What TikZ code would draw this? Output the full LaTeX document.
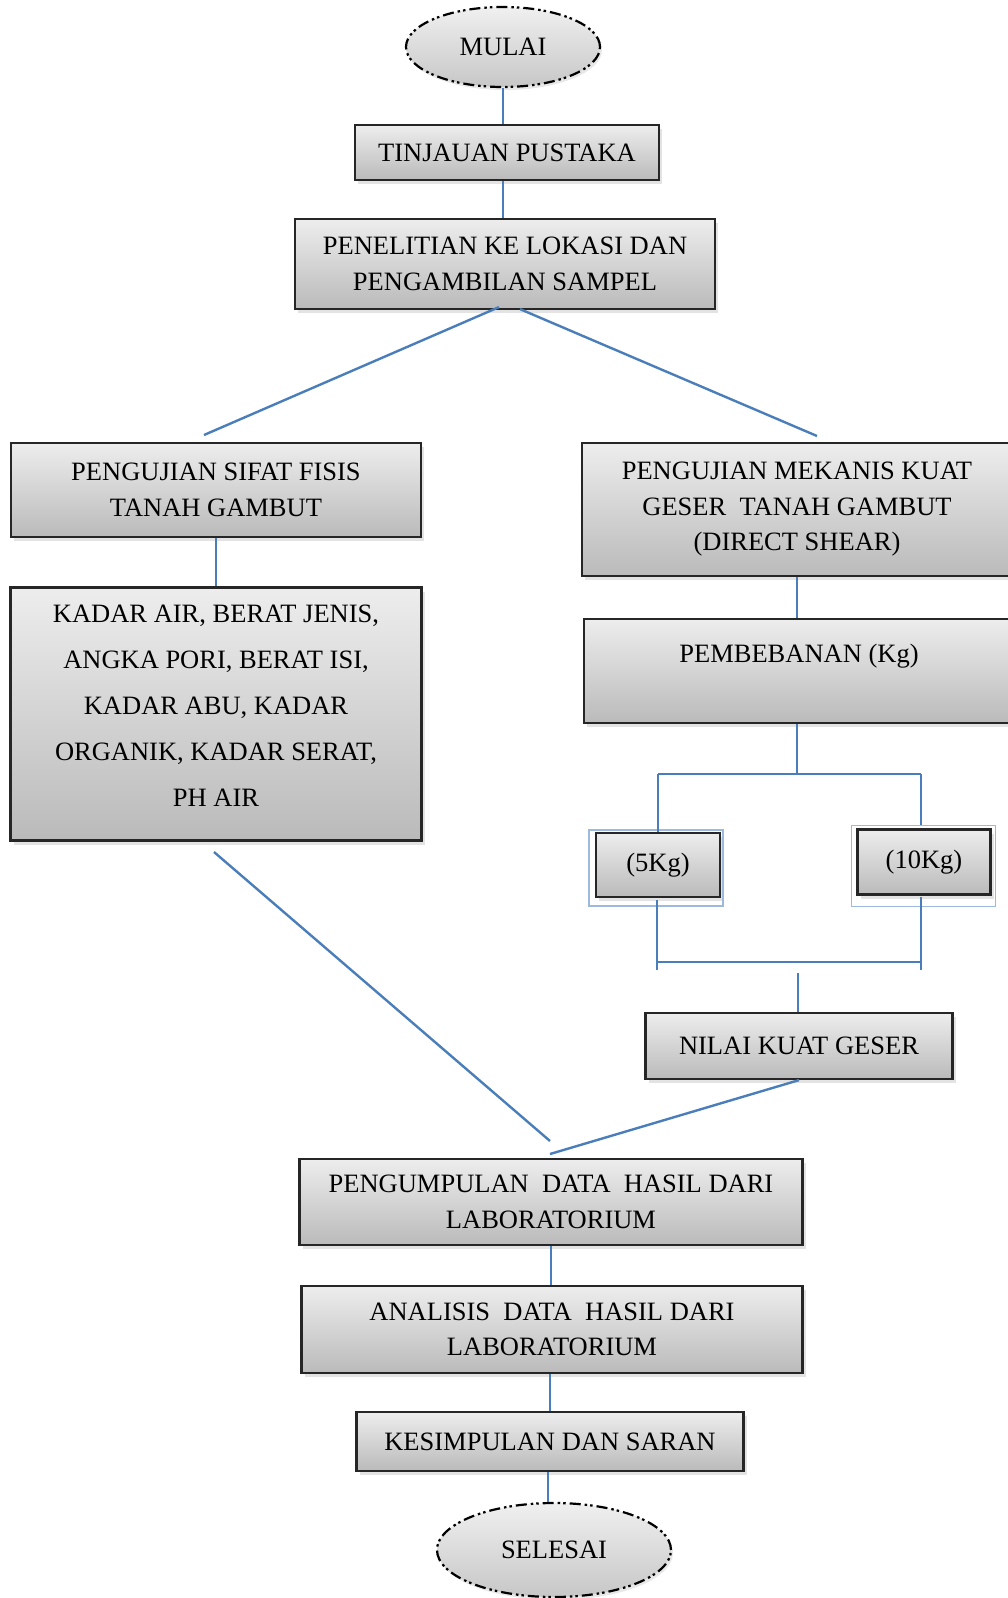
\documentclass[tikz,border=0pt]{standalone}
\usepackage{fontspec}
\setmainfont{Liberation Serif}
\usetikzlibrary{shapes.geometric,shadows}
\definecolor{connblue}{HTML}{4A7EBB}
\definecolor{selblue}{HTML}{9DB9DD}
\begin{document}
\begin{tikzpicture}[x=1pt,y=-1pt,
  box/.style={draw=black!85, line width=2.2pt, top color=black!7, bottom color=black!27,
    drop shadow={shadow xshift=3pt, shadow yshift=-4pt, opacity=0.22},
    align=center, inner sep=0pt, font=\fontsize{26.5}{35.5}\selectfont},
  term/.style={ellipse, draw=black, line width=2.2pt,
    dash pattern=on 11pt off 4pt on 2.5pt off 3pt on 2.5pt off 4pt,
    top color=black!6, bottom color=black!22,
    drop shadow={shadow xshift=2pt, shadow yshift=-3pt, opacity=0.18},
    inner sep=0pt, font=\fontsize{26.5}{35.5}\selectfont},
  conn/.style={draw=connblue, line width=2.4pt},
  selframe/.style={draw=selblue, line width=1.4pt},
  ]
\useasboundingbox (0,0) rectangle (1008,1598);
\clip (0,0) rectangle (1008,1598);

% nodes
\node[term, minimum width=194pt, minimum height=80pt] (mulai) at (503,47) {MULAI};
\node[box, minimum width=304pt, minimum height=55pt] (tinjauan) at (507,152.5) {TINJAUAN PUSTAKA};
\node[box, minimum width=420pt, minimum height=90pt] (penelitian) at (505,264) {PENELITIAN KE LOKASI DAN\\PENGAMBILAN SAMPEL};
\node[box, minimum width=410pt, minimum height=94pt] (sifat) at (216,490) {PENGUJIAN SIFAT FISIS\\TANAH GAMBUT};
\node[box, minimum width=411pt, minimum height=253pt, font=\fontsize{26.5}{46}\selectfont] (kadar) at (216,714) {KADAR AIR, BERAT JENIS,\\ANGKA PORI, BERAT ISI,\\KADAR ABU, KADAR\\ORGANIK, KADAR SERAT,\\PH AIR\\[-30pt]\mbox{}};
\node[box, minimum width=430pt, minimum height=133pt] (mekanis) at (797,509.5) {PENGUJIAN MEKANIS KUAT\\GESER\ \ TANAH GAMBUT\\(DIRECT SHEAR)};
\node[box, minimum width=430pt, minimum height=104pt] (pembeban) at (799,671) {PEMBEBANAN (Kg)\\\mbox{}};
\node[box, minimum width=124pt, minimum height=64pt] (k5) at (658,865) {(5Kg)};
\node[box, minimum width=133pt, minimum height=65pt] (k10) at (924,862) {(10Kg)};
\node[box, minimum width=307pt, minimum height=66pt] (nilai) at (799,1046) {NILAI KUAT GESER};
\node[box, minimum width=503pt, minimum height=86pt] (pengumpulan) at (551,1202) {PENGUMPULAN\ \ DATA\ \ HASIL DARI\\LABORATORIUM};
\node[box, minimum width=501pt, minimum height=87pt] (analisis) at (552,1329.5) {ANALISIS\ \ DATA\ \ HASIL DARI\\LABORATORIUM};
\node[box, minimum width=387pt, minimum height=59pt] (kesimpulan) at (550,1441.5) {KESIMPULAN DAN SARAN};
\node[term, minimum width=234pt, minimum height=94pt] (selesai) at (554,1550) {SELESAI};

% selection frames
\draw[selframe] ([shift={(-6pt,2pt)}]k5.north west) rectangle ([shift={(2pt,-8pt)}]k5.south east);
\draw[selframe] ([shift={(-5pt,3pt)}]k10.north west) rectangle ([shift={(4pt,-11pt)}]k10.south east);

% free-end coordinates
\coordinate (penl) at ([shift={(-6pt,3pt)}]penelitian.south);
\coordinate (penr) at ([shift={(15pt,1pt)}]penelitian.south);
\coordinate (sifattop) at (204,435);
\coordinate (mektop) at (817,436);
\coordinate (kadarbot) at (214,852);
\coordinate (joinA) at (550,1141);
\coordinate (joinB) at (550,1154);
\coordinate (splitC) at (797,774);
\coordinate (splitL) at (658,774);
\coordinate (splitR) at (921,774);
\coordinate (mergeL) at (657,962);
\coordinate (mergeR) at (921,962);
\coordinate (mergeC) at (798,973);

% connectors
\draw[conn] (mulai.south) -- (mulai.south |- tinjauan.north);
\draw[conn] (mulai.south |- tinjauan.south) -- (mulai.south |- penelitian.north);
\draw[conn] (penl) -- (sifattop);
\draw[conn] (penr) -- (mektop);
\draw[conn] (sifat.south) -- (sifat.south |- kadar.north);
\draw[conn] (kadarbot) -- (joinA);
\draw[conn] (mekanis.south) -- (mekanis.south |- pembeban.north);
\draw[conn] (splitC |- pembeban.south) -- (splitC);
\draw[conn] (splitL) -- (splitR);
\draw[conn] (splitL) -- (splitL |- k5.north);
\draw[conn] (splitR) -- (921,825);
\draw[conn] (657,900) -- (657,970);
\draw[conn] (mergeL) -- (mergeR);
\draw[conn] (921,897) -- (921,970);
\draw[conn] (mergeC) -- (mergeC |- nilai.north);
\draw[conn] (nilai.south) -- (joinB);
\draw[conn] (pengumpulan.south) -- (pengumpulan.south |- analisis.north);
\draw[conn] ([xshift=-2pt]analisis.south) -- ([xshift=-2pt]analisis.south |- kesimpulan.north);
\draw[conn] ([xshift=-2pt]kesimpulan.south) -- ([xshift=-2pt]kesimpulan.south |- selesai.north);
\end{tikzpicture}
\end{document}
